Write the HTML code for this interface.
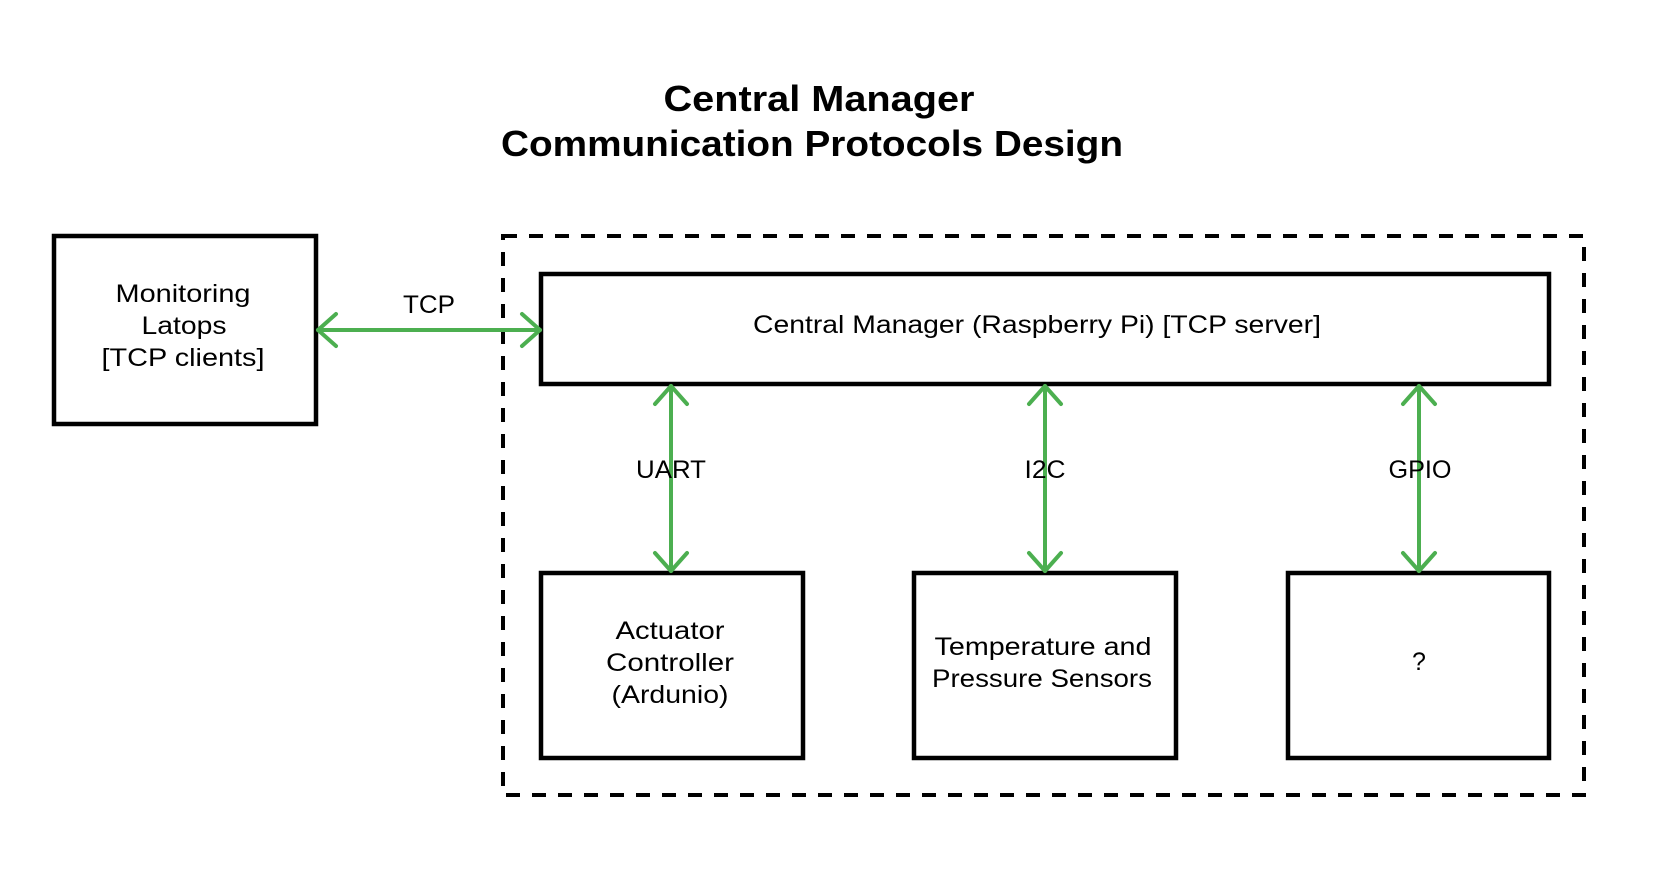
<!DOCTYPE html>
<html><head><meta charset="utf-8"><style>
html,body{margin:0;padding:0;background:#fff;}
svg{display:block;}
text{font-family:"Liberation Sans",sans-serif;fill:#000;}
</style></head><body>
<svg width="1656" height="873" viewBox="0 0 1656 873" xmlns="http://www.w3.org/2000/svg">
<rect width="1656" height="873" fill="#fff"/>
<text x="819" y="111" font-size="36" font-weight="bold" text-anchor="middle" textLength="311" lengthAdjust="spacingAndGlyphs">Central Manager</text>
<text x="812" y="156" font-size="36" font-weight="bold" text-anchor="middle" textLength="622" lengthAdjust="spacingAndGlyphs">Communication Protocols Design</text>

<rect x="503" y="236" width="1081" height="559" fill="none" stroke="#000" stroke-width="4" stroke-dasharray="14,12"/>

<g fill="#fff" stroke="#000" stroke-width="4.5">
<rect x="54" y="236" width="262" height="188"/>
<rect x="541" y="274" width="1008" height="110"/>
<rect x="541" y="573" width="262" height="185"/>
<rect x="914" y="573" width="262" height="185"/>
<rect x="1288" y="573" width="261" height="185"/>
</g>

<g stroke="#4caf50" stroke-width="4" fill="none" stroke-linecap="round" stroke-linejoin="round">
<line x1="318" y1="330" x2="540" y2="330"/>
<polyline points="336,314 318,330 336,346"/>
<polyline points="522,314 540,330 522,346"/>
<line x1="671" y1="386" x2="671" y2="571"/>
<polyline points="655,404 671,386 687,404"/>
<polyline points="655,553 671,571 687,553"/>
<line x1="1045" y1="386" x2="1045" y2="571"/>
<polyline points="1029,404 1045,386 1061,404"/>
<polyline points="1029,553 1045,571 1061,553"/>
<line x1="1419" y1="386" x2="1419" y2="571"/>
<polyline points="1403,404 1419,386 1435,404"/>
<polyline points="1403,553 1419,571 1435,553"/>
</g>

<g font-size="25" text-anchor="middle" lengthAdjust="spacingAndGlyphs">
<text x="183" y="302" textLength="135" lengthAdjust="spacingAndGlyphs">Monitoring</text>
<text x="184" y="334" textLength="85" lengthAdjust="spacingAndGlyphs">Latops</text>
<text x="183" y="366" textLength="163" lengthAdjust="spacingAndGlyphs">[TCP clients]</text>
<text x="429" y="313" textLength="52" lengthAdjust="spacingAndGlyphs">TCP</text>
<text x="1037" y="333" textLength="568" lengthAdjust="spacingAndGlyphs">Central Manager (Raspberry Pi) [TCP server]</text>
<text x="671" y="478" textLength="70" lengthAdjust="spacingAndGlyphs">UART</text>
<text x="1045" y="478" textLength="41" lengthAdjust="spacingAndGlyphs">I2C</text>
<text x="1420" y="478" textLength="63" lengthAdjust="spacingAndGlyphs">GPIO</text>
<text x="670" y="639" textLength="109" lengthAdjust="spacingAndGlyphs">Actuator</text>
<text x="670" y="671" textLength="128" lengthAdjust="spacingAndGlyphs">Controller</text>
<text x="670" y="703" textLength="117" lengthAdjust="spacingAndGlyphs">(Ardunio)</text>
<text x="1043" y="655" textLength="217" lengthAdjust="spacingAndGlyphs">Temperature and</text>
<text x="1042" y="687" textLength="220" lengthAdjust="spacingAndGlyphs">Pressure Sensors</text>
<text x="1419" y="670">?</text>
</g>
</svg>
</body></html>
